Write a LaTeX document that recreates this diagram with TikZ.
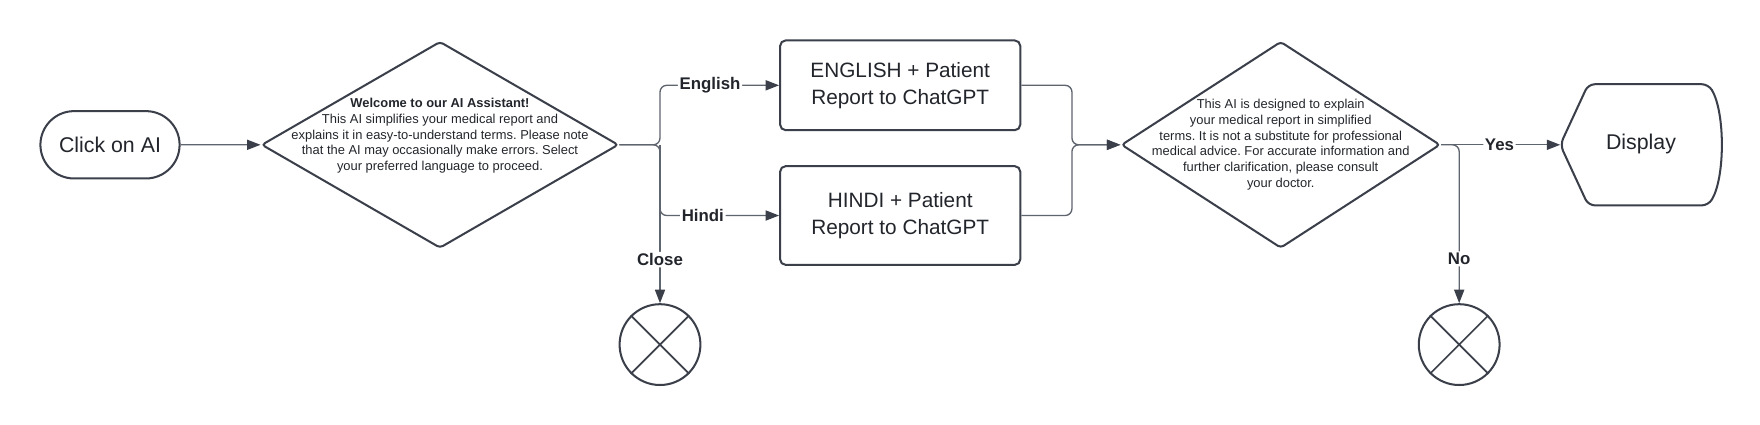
\documentclass[tikz,border=0pt]{standalone}
\usepackage{fontspec}
\setmainfont{Liberation Sans}
\frenchspacing
\usetikzlibrary{shapes.geometric,shapes.misc,arrows.meta}
\definecolor{edgec}{HTML}{3A3F4A}
\definecolor{connc}{HTML}{5F656E}
\definecolor{txtc}{HTML}{22252B}
\begin{document}
\begin{tikzpicture}[x=1pt,y=-1pt,
  shapeline/.style={draw=edgec,line width=1.8pt,text=txtc},
  flow/.style={draw=connc,line width=1.2pt,rounded corners=6pt,
    -{Triangle[length=12pt,width=9pt,color=edgec]}},
  lbl/.style={font=\bfseries\fontsize{15}{18}\selectfont,text=txtc,fill=white,inner sep=1.5pt},
  bigtxt/.style={font=\fontsize{19}{24}\selectfont},
  smalltxt/.style={align=center,text=txtc,font=\fontsize{11.5}{14}\selectfont}]
\useasboundingbox (0,0) rectangle (1568,378.6);
\fill[white] (0,0) rectangle (1568,378.6);

% start
\node[rounded rectangle,shapeline,minimum width=124,minimum height=60,inner sep=0,bigtxt] (click) at (98,129) {Click on AI};

% decision 1
\node[diamond,shapeline,minimum width=318,minimum height=184,inner sep=0,rounded corners=3pt] (d1) at (392,129) {};
\node[smalltxt] (t1) at (392,121) {\textbf{Welcome to our AI Assistant!}\\
This AI simplifies your medical report and\\
explains it in easy-to-understand terms. Please note\\
that the AI may occasionally make errors. Select\\
your preferred language to proceed.};

% language boxes
\node[rectangle,rounded corners=5pt,shapeline,minimum width=214,minimum height=80,align=center,font=\fontsize{18.5}{24}\selectfont] (eng) at (802,76) {ENGLISH + Patient\\Report to ChatGPT};
\node[rectangle,rounded corners=5pt,shapeline,minimum width=214,minimum height=88,align=center,font=\fontsize{18.5}{24}\selectfont] (hin) at (802,192) {HINDI + Patient\\Report to ChatGPT};

% decision 2
\node[diamond,shapeline,minimum width=284,minimum height=184,inner sep=0,rounded corners=3pt] (d2) at (1141,129) {};
\node[smalltxt] (t2) at (1141,129) {This AI is designed to explain\\
your medical report in simplified\\
terms. It is not a substitute for professional\\
medical advice. For accurate information and\\
further clarification, please consult\\
your doctor.};

% end circles
\node[circle,shapeline,minimum size=72,inner sep=0] (x1) at (588,307) {};
\draw[draw=edgec,line width=1.5pt] (x1.45) -- (x1.225) (x1.135) -- (x1.315);
\node[circle,shapeline,minimum size=72,inner sep=0] (x2) at (1300,307) {};
\draw[draw=edgec,line width=1.5pt] (x2.45) -- (x2.225) (x2.135) -- (x2.315);

% display shape
\coordinate (dispL) at (1390,129);
\draw[shapeline,rounded corners=6pt] (dispL) -- (1415,75) -- (1522,75)
  .. controls (1537,100) and (1537,158) .. (1522,183) -- (1415,183) -- cycle;
\node[bigtxt,text=txtc] (disp) at (1462,128) {Display};

% connectors
\coordinate (sp1) at (588,129);
\draw[flow] (click) -- (d1);
\draw[flow] (d1.east) -- (sp1) |- node[lbl,pos=0.71]{English} (eng.west);
\draw[flow] (d1.east) -- (sp1) |- node[lbl,pos=0.68]{Hindi} (hin.west);
\draw[flow] (sp1) -- node[lbl,pos=0.725]{Close} (x1.north);

\coordinate (mg) at (955,129);
\draw[flow] (eng.east) -| (mg) -- (d2.west);
\draw[flow] (hin.east) -| (mg) -- (d2.west);

\draw[flow] (d2.east) -- node[lbl,pos=0.49]{Yes} (dispL);
\draw[flow] (d2.east) -| node[lbl,pos=0.86]{No} (x2.north);
\end{tikzpicture}
\end{document}
